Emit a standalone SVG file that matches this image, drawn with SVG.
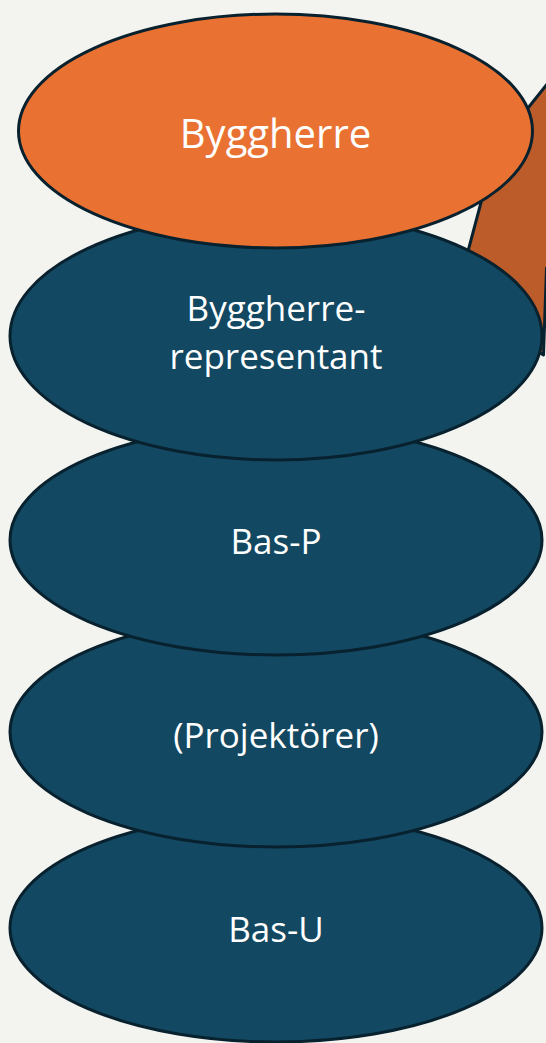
<svg xmlns="http://www.w3.org/2000/svg" width="546" height="1043" viewBox="0 0 546 1043">
<style>
.bg{fill:#F3F3EF}
.node{stroke:#08212E;stroke-width:3}
.orange{fill:#E97132}
.navy{fill:#124861}
.brown{fill:#BC5C2A;stroke:#08212E;stroke-width:3;stroke-linejoin:round}
.lbl{font-family:"Open Sans","Noto Sans","Liberation Sans",sans-serif;fill:#FFFFFF;text-anchor:middle;font-size:35px}
.big{font-size:40px}
</style>
<rect class="bg" x="0" y="0" width="546" height="1043"/>
<g id="connectors">
  <path class="brown" d="M 600 18 L 528 108 L 495 150 L 455 300 L 543.5 355 L 546.5 268 L 600 268 Z"/>
</g>
<g id="node-bas-u">
  <ellipse class="node navy" cx="276" cy="928" rx="266" ry="114"/>
  <text class="lbl" x="276" y="942">Bas-U</text>
</g>
<g id="node-projektorer">
  <ellipse class="node navy" cx="276" cy="732" rx="266" ry="115"/>
  <text class="lbl" x="276" y="748">(Projektörer)</text>
</g>
<g id="node-bas-p">
  <ellipse class="node navy" cx="276" cy="540" rx="266" ry="115"/>
  <text class="lbl" x="276" y="554">Bas-P</text>
</g>
<g id="node-byggherrerepresentant">
  <ellipse class="node navy" cx="276" cy="336" rx="266" ry="124"/>
  <text class="lbl" x="276" y="321">Byggherre-</text>
  <text class="lbl" x="276" y="369">representant</text>
</g>
<g id="node-byggherre">
  <ellipse class="node orange" cx="275.5" cy="131" rx="257" ry="117"/>
  <text class="lbl big" x="275.5" y="148">Byggherre</text>
</g>
</svg>
